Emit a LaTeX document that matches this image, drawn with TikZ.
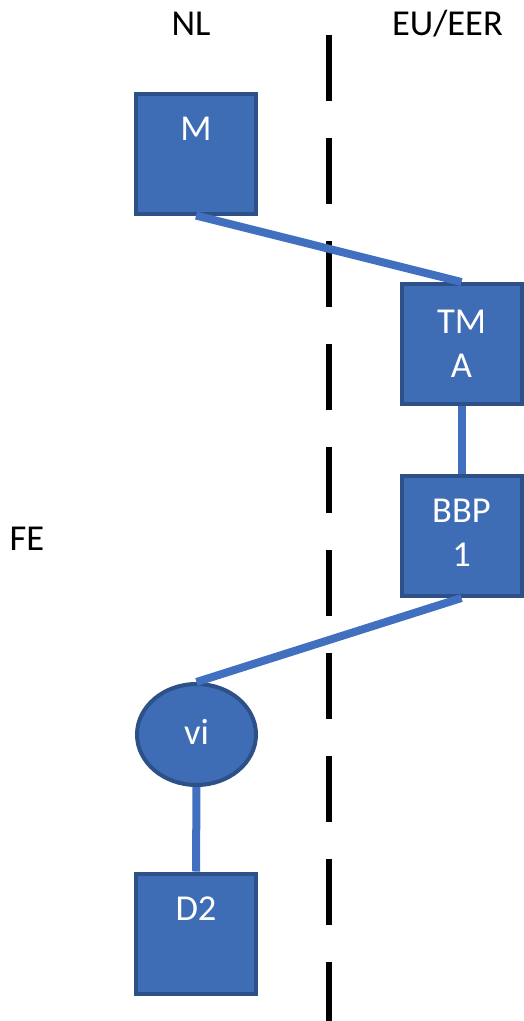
\documentclass[tikz,border=0pt]{standalone}
\usepackage{fontspec}
\setmainfont{Carlito}
\usetikzlibrary{shapes.geometric}
\definecolor{boxfill}{HTML}{3E6DB5}
\definecolor{boxline}{HTML}{2E5088}
\definecolor{linkcol}{HTML}{4070BF}
\tikzset{
  big/.style={font=\fontsize{36.5}{44}\selectfont},
  entity/.style={rectangle, draw=boxline, fill=boxfill, line width=4pt, minimum size=120pt, inner sep=0pt},
  roundentity/.style={ellipse, draw=boxline, fill=boxfill, line width=4pt, minimum width=119pt, minimum height=101pt, inner sep=0pt},
  intext/.style={big, text=white, align=center, anchor=base, inner sep=0pt},
  head/.style={big, text=black, anchor=base, inner sep=0pt},
  link/.style={draw=linkcol, line width=8pt},
  border/.style={draw=black, line width=5.5pt, dash pattern=on 66pt off 37pt}
}
\begin{document}
\begin{tikzpicture}[x=1pt,y=-1pt]
\useasboundingbox (0,0) rectangle (523,1021);
% border line
\coordinate (btop) at (329,35);
\coordinate (bbot) at (329,1024);
\draw[border] (btop) -- (bbot);
% headings
\node[head] (nl) at (191,35) {NL};
\node[head] (eu) at (447.5,35) {EU/EER};
\node[head] (fe) at (27,550) {FE};
% entities
\node[entity] (m) at (196,153.5) {};
\node[entity] (tma) at (461.5,344) {};
\node[entity] (bbp) at (461.5,536) {};
\node[roundentity] (vi) at (196.5,734.5) {};
\node[entity] (d2) at (196,933.5) {};
% links
\draw[link] (m.south) -- (tma.north);
\draw[link] (tma.south) -- (bbp.north);
\draw[link] (bbp.south) -- (vi.north);
\draw[link] (vi.south) -- (d2.north);
% texts
\node[intext] (mt) at (196,140.5) {M};
\node[intext] (tmat) at (461.5,377) {TM\\A};
\node[intext] (bbpt) at (461.5,566) {BBP\\1};
\node[intext] (vit) at (196.5,744) {vi};
\node[intext] (d2t) at (196,920.5) {D2};
\end{tikzpicture}
\end{document}
